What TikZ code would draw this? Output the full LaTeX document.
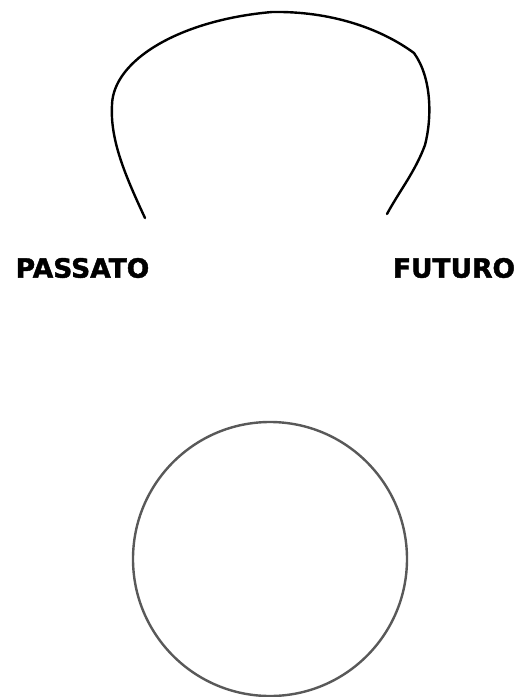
\documentclass[tikz,border=0pt]{standalone}
\usepackage{fontspec}
\setmainfont{DejaVu Sans}
\newfontfamily\lblfont{DejaVu Sans Bold}[FakeBold=1.6]
\begin{document}
\begin{tikzpicture}[x=1pt,y=-1pt,
  lbl/.style={font=\fontsize{26.5}{31}\lblfont, inner sep=0pt, anchor=center},
  arcline/.style={line width=2.4pt, black, line cap=round, line join=round},
  ring/.style={circle, draw=black!65, line width=2.4pt, minimum size=274pt, inner sep=0pt}]
\useasboundingbox[fill=white] (0,0) rectangle (518,697);
\node[lbl] (passato) at (82.5,268) {PASSATO};
\node[lbl] (futuro) at (454,268) {FUTURO};
\coordinate (sx) at (145,218);
\coordinate (dx) at (387,214);
\draw[arcline] (sx) .. controls (125,175) and (110,140) .. (112,105)
  .. controls (113,60) and (180,20) .. (272,12)
  .. controls (330,11) and (380,28) .. (414,53)
  .. controls (432,78) and (432,118) .. (425,145)
  .. controls (415,172) and (400,190) .. (dx);
\node[ring] (cerchio) at (270,559) {};
\end{tikzpicture}
\end{document}
